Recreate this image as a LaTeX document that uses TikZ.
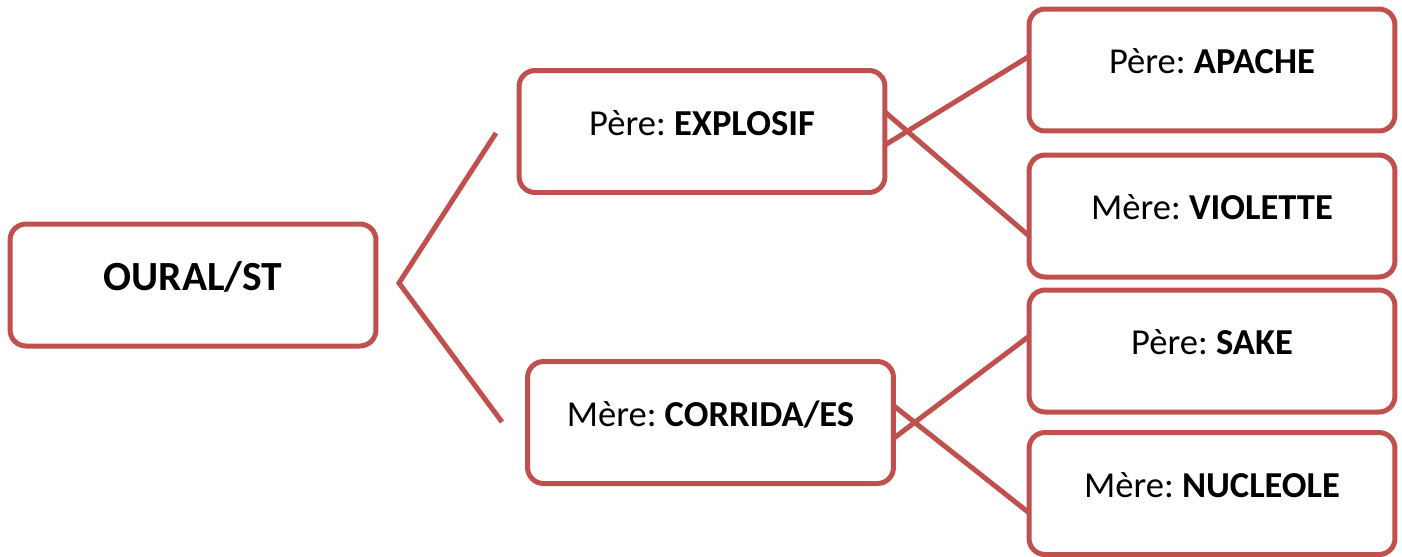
\documentclass[tikz,border=0pt]{standalone}
\usepackage{fontspec}
\setmainfont{Carlito}
\usepackage{tikz}
\usetikzlibrary{calc}
\frenchspacing
\definecolor{pedi_red}{RGB}{192, 80, 77}
\tikzstyle{bx}=[rectangle,rounded corners=0.32cm,draw=pedi_red,fill=white,
  line width=0.1cm,minimum width=7.32cm,minimum height=2.44cm,
  font=\fontsize{20.8}{24}\selectfont,text height=0.46cm,text depth=0.32cm]
\tikzstyle{root}=[bx,font=\fontsize{23.6}{26}\selectfont\bfseries,
  text height=0.54cm,text depth=0.34cm]
\tikzstyle{ln}=[draw=pedi_red,line width=0.1cm]
\tikzstyle{none}=[inner sep=0pt]

\begin{document}
\begin{tikzpicture}[x=0.02cm, y=-0.02cm]
		\useasboundingbox (0, 0) rectangle (1402, 556);
		\node [style=root] (0) at (193, 285) {OURAL/ST};
		\node [style=bx] (1) at (702, 131.5) {Père: \textbf{EXPLOSIF}};
		\node [style=bx] (2) at (710.5, 422.5) {Mère: \textbf{CORRIDA/ES}};
		\node [style=bx] (3) at (1212, 70) {Père: \textbf{APACHE}};
		\node [style=bx] (4) at (1212, 216) {Mère: \textbf{VIOLETTE}};
		\node [style=bx] (5) at (1212, 351) {Père: \textbf{SAKE}};
		\node [style=bx] (6) at (1212, 493.5) {Mère: \textbf{NUCLEOLE}};
		\node [style=none] (7) at (496, 133) {};
		\node [style=none] (8) at (399, 283) {};
		\node [style=none] (9) at (502, 422) {};
		\node [style=none] (10) at (885, 112) {};
		\node [style=none] (11) at (885, 145) {};
		\node [style=none] (12) at (1028, 57) {};
		\node [style=none] (13) at (1028, 235) {};
		\node [style=none] (14) at (894, 406) {};
		\node [style=none] (15) at (894, 438) {};
		\node [style=none] (16) at (1028, 337) {};
		\node [style=none] (17) at (1028, 512) {};
		\draw [style=ln] (7.center) -- (8.center) -- (9.center);
		\draw [style=ln] (10.center) to (13.center);
		\draw [style=ln] (11.center) to (12.center);
		\draw [style=ln] (14.center) to (17.center);
		\draw [style=ln] (15.center) to (16.center);
\end{tikzpicture}
\end{document}
